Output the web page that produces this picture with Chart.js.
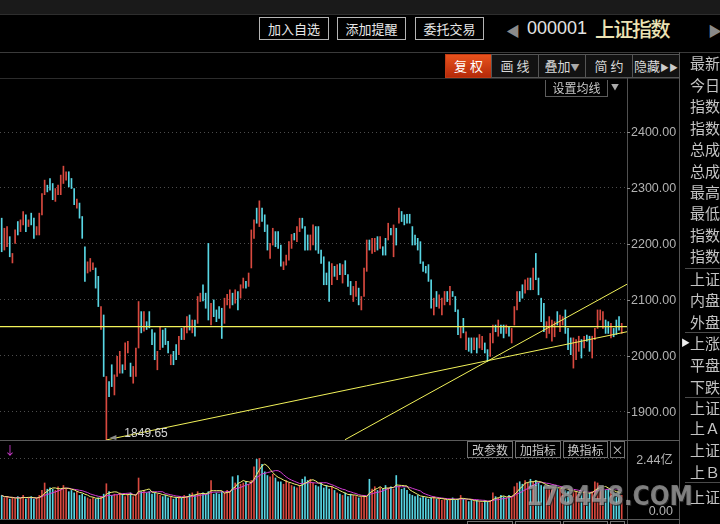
<!DOCTYPE html>
<html>
<head>
<meta charset="utf-8">
<script src="https://cdn.jsdelivr.net/npm/chart.js@4.4.0/dist/chart.umd.min.js"></script>
<style>
  body { margin: 0; background: #000; width: 720px; height: 524px; overflow: hidden; position: relative;
         font-family: "Noto Sans CJK SC", sans-serif; }
  .abs { position: absolute; }
  .hbtn { position: absolute; top: 17px; height: 23px; box-sizing: border-box; border: 1px solid #b4b4b4;
          color: #e8e8e8; font-size: 13px; line-height: 21px; text-align: center; }
  .tbtn { position: absolute; top: 54px; height: 24px; box-sizing: border-box; border: 1px solid #555;
          background: #121212; color: #d8d8d8; font-size: 13px; line-height: 22px; text-align: center; }
  .sbtn { position: absolute; height: 17px; box-sizing: border-box; border: 1px solid #707070;
          color: #c8c8c8; font-size: 12px; line-height: 15px; text-align: center; }
  .side { position: absolute; left: 690px; height: 20px; line-height: 20px; font-size: 15px; color: #c4c4c4; white-space: nowrap; }
  .hl { position: absolute; height: 1px; background: #444; }
  .vl { position: absolute; width: 1px; background: #505050; }
  canvas { position: absolute; }
</style>
</head>
<body>
<!-- top strip + header -->
<div class="abs" style="left:0;top:0;width:720px;height:14px;background:#1a1a1a"></div>
<div class="hl" style="left:0;top:14px;width:720px;background:#2e2e2e"></div>
<div class="hbtn" style="left:259px;width:70px">加入自选</div>
<div class="hbtn" style="left:337px;width:69px">添加提醒</div>
<div class="hbtn" style="left:415px;width:69px">委托交易</div>
<div class="abs" style="left:506px;top:20px;font-size:14px;color:#8a8a8a">◀</div>
<div class="abs" style="left:527px;top:18px;font-family:'Liberation Sans';font-size:18px;color:#e4e4e4">000001</div>
<div class="abs" style="left:595px;top:14px;font-size:20px;letter-spacing:-1.5px;color:#ece3b4;font-weight:500">上证指数</div>
<div class="abs" style="left:708px;top:20px;font-size:14px;color:#8a8a8a">▶</div>
<div class="hl" style="left:0;top:52px;width:720px;background:#3a3a3a"></div>

<!-- toolbar -->
<div class="tbtn" style="left:445px;width:47px;background:linear-gradient(#e8521c,#b52a0a);color:#fff;border-color:#c03a14">复 权</div>
<div class="tbtn" style="left:491px;width:48px">画 线</div>
<div class="tbtn" style="left:538px;width:48px">叠加<span style="font-size:9px;color:#aaa">▼</span></div>
<div class="tbtn" style="left:585px;width:48px">简 约</div>
<div class="tbtn" style="left:632px;width:48px">隐藏<span style="font-size:9px;color:#ccc">▶▶</span></div>
<div class="hl" style="left:0;top:78px;width:680px;background:#2c2c2c"></div>

<!-- axis / panel lines -->
<div class="vl" style="left:627px;top:78px;height:446px"></div>
<div class="vl" style="left:679px;top:52px;height:472px;background:#555"></div>
<div class="hl" style="left:0;top:440px;width:680px;background:#5a5a5a"></div>
<div class="hl" style="left:0;top:519px;width:680px;background:#5a5a5a"></div>

<canvas id="kline" width="680" height="360" style="left:0;top:80px"></canvas>
<canvas id="vol" width="673" height="78" style="left:0;top:441px"></canvas>

<!-- 设置均线 -->
<div class="abs" style="left:545px;top:80px;width:63px;height:17px;box-sizing:border-box;border:1px solid #5c5c5c;border-top:none;color:#c8c8c8;font-size:12px;line-height:15px;text-align:center">设置均线</div>
<div class="abs" style="left:611px;top:81px;font-size:8px;color:#aaa">▼</div>

<!-- volume panel buttons -->
<div class="abs" style="left:4px;top:441px;font-size:12px;color:#d23cd2">↓</div>
<div class="sbtn" style="left:467px;top:441px;width:46px">改参数</div>
<div class="sbtn" style="left:515px;top:441px;width:46px">加指标</div>
<div class="sbtn" style="left:563px;top:441px;width:45px">换指标</div>
<div class="sbtn" style="left:610px;top:441px;width:15px">×</div>
<div class="sbtn" style="left:467px;top:521px;width:46px">改参数</div>
<div class="sbtn" style="left:515px;top:521px;width:46px">加指标</div>
<div class="sbtn" style="left:563px;top:521px;width:45px">换指标</div>
<div class="sbtn" style="left:610px;top:521px;width:15px">×</div>

<!-- watermark -->
<div class="abs" style="left:526px;top:481px;font-family:'DejaVu Sans Condensed';font-weight:bold;font-size:26px;color:rgba(200,200,200,0.58);text-shadow:1px 1px 0 rgba(40,40,40,0.8)">178448.COM</div>

<div id="side"></div>

<script>
// candle data (index = trading day)
const highs = [
  2246,2228,2231,2213,2183,2225,2240,2243,2258,2252, 2243,2255,2246,2231,2255,2290,2314,2305,2317,2308,
  2299,2305,2323,2339,2329,2329,2317,2299,2280,2273, 2249,2195,2168,2174,2166,2157,2142,2088,2073,1963,
  1954,1984,1966,1999,2008,1984,2023,2026,1987,1981, 2014,2097,2079,2079,2061,2079,2047,2041,2008,
  2052,2046,2049,2026,2002,2008,2020,2035,2049,2052, 2070,2073,2064,2064,2106,2112,2127,2112,2201,2094,
  2100,2082,2088,2085,2103,2110,2118,2112,2118,2115, 2127,2139,2133,2148,2225,2243,2264,2277,2264,2252,
  2234,2201,2228,2222,2222,2198,2168,2180,2204,2217, 2219,2231,2246,2246,2231,2216,2216,
  2234,2231,2231,2189,2177,2148,2168,2165,2160,2163, 2165,2163,2170,2145,2133,2124,2133,2121,2106,2157,
  2207,2207,2210,2210,2213,2213,2195,2210,2237,2228, 2234,2228,2264,2258,2252,2253,2253,2231,2216,2210,
  2204,2168,2160,2163,2136,2103,2115,2109,2103,2115, 2115,2124,2115,2106,2082,2052,2067,
  2043,2032,2032,2032,2032,2038,2035,2023,2011,2040, 2055,2055,2064,2055,2055,2055,2052,2049,2088,2115,
  2115,2127,2136,2139,2139,2157,2183,2139,2103,2094, 2061,2070,2064,2061,2079,2073,2070,2082,2049,2032,
  2032,2029,2035,2029,2035,2037,2035,2035,2049,2082, 2082,2079,2064,2061,2058,2049,2064,2070,2058
];
const lows = [
  2186,2189,2195,2177,2166,2201,2216,2222,2234,2222, 2231,2234,2210,2216,2216,2252,2288,2293,2296,2279,
  2276,2288,2288,2308,2314,2302,2299,2270,2264,2246, 2210,2133,2148,2151,2154,2121,2088,2047,1963,1849.65,
  1927,1945,1930,1963,1969,1969,1975,2005,1963,1951, 1963,2014,2041,2044,2047,2050,2020,1993,1975,
  2011,2015,2020,2005,1984,1984,1993,2002,2029,2029, 2041,2046,2041,2035,2058,2097,2098,2085,2064,2055,
  2070,2061,2067,2031,2058,2091,2085,2091,2094,2082, 2103,2121,2121,2124,2157,2210,2237,2231,2240,2222,
  2189,2174,2198,2195,2192,2160,2154,2162,2171,2192, 2207,2204,2222,2228,2189,2189,2189,
  2198,2189,2183,2165,2127,2127,2097,2127,2142,2136, 2145,2130,2145,2124,2109,2097,2106,2091,2082,2106,
  2151,2189,2183,2186,2189,2192,2180,2180,2207,2216, 2177,2198,2237,2240,2234,2237,2237,2198,2198,2189,
  2165,2151,2148,2133,2085,2073,2088,2085,2073,2091, 2097,2091,2106,2079,2038,2032,2041,
  2011,2008,2005,2011,2005,2014,2011,2005,1990,1999, 2023,2043,2035,2040,2032,2040,2035,2023,2055,2082,
  2097,2103,2112,2118,2118,2118,2136,2109,2061,2043, 2032,2040,2026,2034,2055,2043,2055,2040,2011,2002,
  1978,1993,2008,1996,2014,2026,2008,1996,2029,2049, 2064,2049,2040,2040,2032,2034,2038,2046,2040
];
// 1 = up day (red), 0 = down day (cyan)
const rise = [
  0,1,1,0,1,1,0,1,1,0, 1,0,0,1,1,1,1,0,0,0, 1,1,1,1,1,0,0,0,1,0, 0,0,1,1,1,0,0,1,0,1,
  0,0,1,1,1,0,1,1,0,1, 1,1,0,1,0,0,0,0,1,
  1,0,0,0,1,0,0,1,0,1, 1,0,1,0,1,1,0,0,0,1, 0,0,0,0,1,1,1,0,1,0, 1,1,0,1,1,1,0,1,0,0,
  0,1,1,0,0,0,1,1,1,1, 0,1,1,0,0,0,1,
  1,0,0,0,0,0,0,1,0,1, 0,1,0,0,0,1,1,0,1,1, 1,0,1,1,0,1,0,0,1,0, 1,0,1,0,0,0,0,0,0,0,
  0,0,0,0,0,1,0,1,1,1, 0,1,0,0,0,1,0,
  1,0,0,1,0,1,1,0,0,1, 1,0,1,0,0,1,0,1,1,1, 0,0,1,1,0,1,0,0,0,0, 1,1,1,1,0,1,1,0,0,0,
  1,1,1,0,1,0,0,1,1,1, 1,1,0,0,1,0,0,0,1
];
// volume in 亿
const volumes = [
  0.95,0.85,0.9,0.8,0.85, 0.8,0.9,0.85,0.95,0.8,0.85,0.9,0.8,0.85,0.95, 1.15,1.45,1.2,
  1.25,1.2,1.15,1.3,1.2,1.35,1.2,1.1,1.15,1.05,1.1, 0.95,1.0,0.9,0.85,0.8,0.85,0.8,0.85,0.9,
  1.0,1.42,1.1,0.95, 1.0,0.95,1.05,1.0,0.9,1.0,1.05,0.9,0.95, 1.65,1.1,1.15,1.05,1.1,1.0,1.05,1.0,0.95,
  0.9,0.95,0.85,0.9,0.8,0.85,0.9,0.85,0.95,0.9, 1.0,1.05,0.95,1.1,1.0,1.05,1.0,1.1,1.55,1.0,
  1.05,1.0,1.1,1.05,1.15,1.1, 1.7,1.45,1.75,1.4, 1.45,1.5,1.4,1.55, 2.1,2.4,2.44,2.2,1.9,
  1.75,1.7,1.8,1.65,1.5, 1.5,1.4,1.55,1.45,1.35, 1.3,1.25,1.35, 1.6,1.7,1.55,1.6,1.45,
  1.35,1.3,1.45,1.25,1.35,1.2,1.3,1.15, 1.05,1.0,0.95,1.05,0.9,1.0,0.95,0.9,0.85,0.9,0.95,0.9,
  1.6, 1.2,1.3,1.15,1.25,1.2, 1.35,1.25,1.3,1.2,1.75, 1.3,1.2,1.25,1.15,
  1.0,0.95,0.9,0.95,0.85,0.9,0.85,0.8,0.85,0.9,0.8, 0.8,0.75,0.8,0.75,0.8,0.85,0.75,0.8,0.95,0.8,
  0.75,0.7,0.75,0.7,0.75,0.7,0.65,0.75,0.7,0.75, 1.05, 0.9,0.85,0.95,0.9,0.85,0.95,0.9,
  1.3,1.45,1.5,1.4,1.55,1.45,1.6,1.5,1.55,1.45, 1.35,1.3,1.25,1.3,1.2,1.25,1.3,1.2,1.25,1.15,
  1.1,1.05,1.15,1.1,1.0,1.05,1.1,1.0,1.05,1.1, 1.5,1.45, 1.2,1.25,1.15,1.2,1.1, 1.05,1.0,1.05,0.95
];
const yTicks = [1900, 2000, 2100, 2200, 2300, 2400];
const volTicks = [0, 2.44];
const flatLevel = 2052;
const trendA = [{ x: 39, y: 1849.65 }, { x: 232.97, y: 2043 }];
const trendB = [{ x: 127.9, y: 1850 }, { x: 232.97, y: 2128 }];

const RED = "#d8493f";
const CYAN = "#58d6e4";
const YEL = "#f2f25a";
const MAG = "#d23cd2";
const AXIS_TEXT = "#b2b2b2";
const xMin = -0.63, xMax = 232.97;
const barColors = rise.map(r => r ? RED : CYAN);

// moving averages of volume
function ma(arr, n) {
  return arr.map((v, i) => {
    const s = arr.slice(Math.max(0, i - n + 1), i + 1);
    return { x: i, y: s.reduce((a, b) => a + b, 0) / s.length };
  });
}

// right-hand info labels
const sideLabels = [
  ["最新", 63], ["今日", 85], ["指数", 106], ["指数", 128], ["总成", 149], ["总成", 171], ["最高", 192],
  ["最低", 213], ["指数", 235], ["指数", 256], ["上证", 279], ["内盘", 300], ["外盘", 322], ["上涨", 343],
  ["平盘", 365], ["下跌", 387], ["上证", 408], ["上Ａ", 428], ["上证", 450], ["上Ｂ", 472], ["上证", 497]
];
const side = document.getElementById("side");
sideLabels.forEach(([t, y]) => {
  const d = document.createElement("div");
  d.className = "side";
  d.style.top = (y - 10) + "px";
  d.textContent = t;
  side.appendChild(d);
});
[268, 332, 397, 482].forEach(y => {
  const d = document.createElement("div");
  d.className = "hl";
  d.style.cssText = "left:685px;width:35px;top:" + y + "px;background:#4a4a4a";
  side.appendChild(d);
});
const tri = document.createElement("div");
tri.className = "abs";
tri.style.cssText = "left:681px;top:336px;font-size:9px;color:#eee";
tri.textContent = "▶";
side.appendChild(tri);

const lowIdx = lows.indexOf(Math.min(...lows));

// keep the plot area flush with the canvas edges
function noPad(s) {
  s.paddingTop = 0;
  s.paddingBottom = 0;
}

// price labels on the right axis, placed through the y scale
const priceLabels = {
  id: "priceLabels",
  afterDraw(chart) {
    const { ctx, scales, chartArea } = chart;
    ctx.save();
    ctx.font = "12.5px 'Liberation Sans'";
    ctx.textBaseline = "middle";
    yTicks.forEach(v => {
      const y = Math.round(scales.y.getPixelForValue(v)) + 0.5;
      ctx.strokeStyle = "#8a8a8a";
      ctx.beginPath();
      ctx.moveTo(chartArea.right, y);
      ctx.lineTo(chartArea.right + 3, y);
      ctx.stroke();
      ctx.fillStyle = AXIS_TEXT;
      ctx.fillText(v.toFixed(2), chartArea.right + 4, y);
    });
    // lowest point marker
    const x = scales.x.getPixelForValue(lowIdx);
    const yl = scales.y.getPixelForValue(lows[lowIdx]);
    ctx.fillStyle = "#8c8c8c";
    ctx.beginPath();
    ctx.moveTo(x + 3, yl - 2);
    ctx.lineTo(x + 10, yl - 5);
    ctx.lineTo(x + 10, yl);
    ctx.closePath();
    ctx.fill();
    ctx.fillStyle = "#d6d6d6";
    ctx.font = "12px 'Liberation Sans'";
    ctx.fillText(lows[lowIdx].toFixed(2), x + 18, yl - 6);
    ctx.restore();
  }
};

new Chart(document.getElementById("kline"), {
  type: "bar",
  data: {
    datasets: [
      { type: "line", data: [{ x: xMin, y: flatLevel }, { x: xMax, y: flatLevel }],
        borderColor: YEL, borderWidth: 1.2, pointRadius: 0, order: 0 },
      { type: "line", data: trendA, borderColor: YEL, borderWidth: 1, pointRadius: 0, order: 0 },
      { type: "line", data: trendB, borderColor: YEL, borderWidth: 1, pointRadius: 0, order: 0 },
      { data: highs.map((h, i) => ({ x: i, y: [lows[i], h] })), backgroundColor: barColors,
        barThickness: 1, order: 1 }
    ]
  },
  options: {
    responsive: false,
    animation: false,
    events: [],
    layout: { padding: 0 },
    plugins: { legend: { display: false }, tooltip: { enabled: false } },
    scales: {
      x: { type: "linear", min: xMin, max: xMax, offset: false, display: false },
      y: {
        position: "right", min: 1849.5, max: 2493,
        afterBuildTicks: s => { s.ticks = yTicks.map(v => ({ value: v })); },
        afterFit: s => { s.width = 53; noPad(s); },
        grid: { color: "#4c4c4c", drawTicks: false },
        border: { display: false, dash: [1, 3] },
        ticks: { display: false }
      }
    }
  },
  plugins: [priceLabels]
});

const volLabels = {
  id: "volLabels",
  afterDraw(chart) {
    const { ctx, scales } = chart;
    ctx.save();
    ctx.fillStyle = AXIS_TEXT;
    ctx.font = "12.5px 'Liberation Sans', 'Noto Sans CJK SC'";
    ctx.textAlign = "right";
    ctx.textBaseline = "middle";
    ctx.fillText(volTicks[1].toFixed(2) + "亿", 673, scales.y.getPixelForValue(volTicks[1]) + 2);
    ctx.fillText(volTicks[0].toFixed(2), 673, scales.y.getPixelForValue(volTicks[0]) - 7);
    ctx.restore();
  }
};

new Chart(document.getElementById("vol"), {
  type: "bar",
  data: {
    datasets: [
      { type: "line", data: ma(volumes, 5), borderColor: "#f0f070", borderWidth: 1, pointRadius: 0, order: 0 },
      { type: "line", data: ma(volumes, 10), borderColor: MAG, borderWidth: 1, pointRadius: 0, order: 1 },
      { data: volumes.map((v, i) => ({ x: i, y: v })), backgroundColor: barColors, barThickness: 1, order: 2 }
    ]
  },
  options: {
    responsive: false,
    animation: false,
    events: [],
    layout: { padding: 0 },
    plugins: { legend: { display: false }, tooltip: { enabled: false } },
    scales: {
      x: { type: "linear", min: xMin, max: xMax, offset: false, display: false },
      y: {
        position: "right", min: 0, max: 3.14,
        afterBuildTicks: s => { s.ticks = [{ value: volTicks[1] }]; },
        afterFit: s => { s.width = 46; noPad(s); },
        grid: { color: "#4c4c4c", drawTicks: false },
        border: { display: false, dash: [1, 3] },
        ticks: { display: false }
      }
    }
  },
  plugins: [volLabels]
});
</script>
</body>
</html>
